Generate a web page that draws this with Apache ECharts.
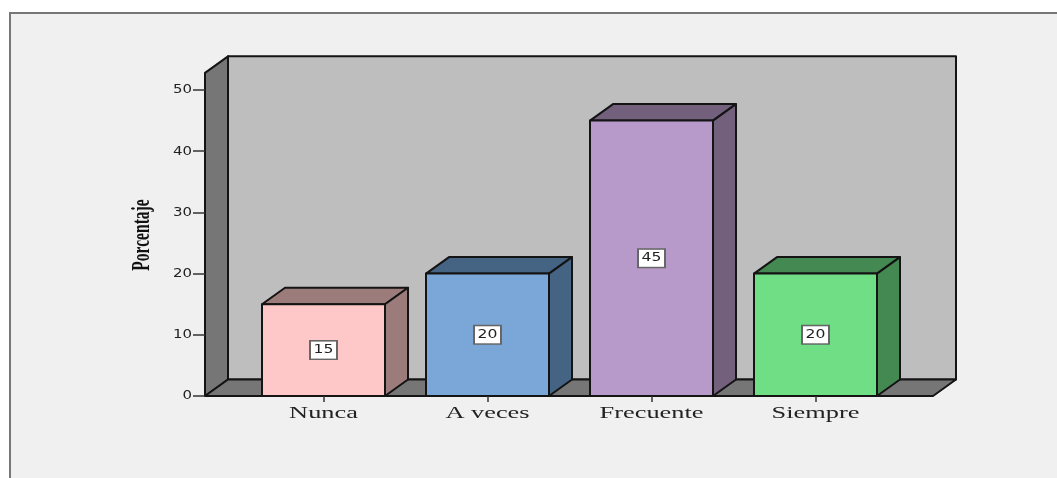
<!DOCTYPE html>
<html><head><meta charset="utf-8">
<style>html,body{margin:0;padding:0;background:#fff}#c{width:1057px;height:478px}</style>
<script src="https://cdn.jsdelivr.net/npm/echarts@6/dist/echarts.min.js"></script></head>
<body><div id="c"></div>
<script>
const categories = ["Nunca","A veces","Frecuente","Siempre"];
const values = [15,20,45,20];
const faceColors = ["#ffc8c8","#7ba7d8","#b89aca","#70de85"];
const shadeColors = ["#9c7b7b","#456484","#73607d","#448852"];
const yTickLabels = [0,10,20,30,40,50];
const yTitle = "Porcentaje";
const wallTop = 52.8;
const DX = 23, DY = -16.5, PADL = 36.5, PADR = 35.5;
const EDGE = "#141414";

const chart = echarts.init(document.getElementById("c"), null, {renderer:"canvas"});
function poly(points, fill){
  return {type:"polygon", shape:{points}, style:{fill, stroke:EDGE, lineWidth:2, lineJoin:"round"}};
}
chart.setOption({
  animation:false,
  backgroundColor:"#ffffff",
  graphic:[
    {type:"rect", z:-10, shape:{x:10,y:13,width:1200,height:600},
     style:{fill:"#f0f0f0", stroke:"#777777", lineWidth:2}},
    {type:"text", z:20, x:143, y:235, rotation:Math.PI/2, scaleX:0.74, scaleY:1.15,
     style:{text:yTitle, align:"center", verticalAlign:"middle", fontFamily:"Liberation Serif",
       fontWeight:"bold", fontSize:21, fill:"#111"}}
  ],
  grid:{left:241.5, width:656, top:90, height:306},
  xAxis:{type:"category", data:categories,
    axisLine:{show:false},
    axisTick:{show:true, alignWithLabel:true, length:6, lineStyle:{color:"#333",width:1.5}},
    axisLabel:{show:false}, z:5},
  yAxis:{type:"value", min:yTickLabels[0], max:yTickLabels[yTickLabels.length-1], interval:10, offset:36.5,
    splitLine:{show:false},
    axisLine:{show:false},
    axisTick:{show:true, length:12, lineStyle:{color:"#333",width:1.5}},
    axisLabel:{show:false}, z:5},
  series:[
    {type:"custom", coordinateSystem:"cartesian2d", z:1, silent:true, data:[[0,0]],
     renderItem(params, api){
       const half = api.size([1,0])[0]/2;
       const o = api.coord([0,0]), t = api.coord([0,wallTop]);
       const xl = o[0]-half-PADL, xr = api.coord([categories.length-1,0])[0]+half+PADR;
       const y0 = o[1], y1 = t[1];
       return {type:"group", children:[
         poly([[xl+DX,y1+DY],[xr+DX,y1+DY],[xr+DX,y0+DY],[xl+DX,y0+DY]],"#bebebe"),
         poly([[xl,y0],[xl+DX,y0+DY],[xl+DX,y1+DY],[xl,y1]],"#767676"),
         poly([[xl,y0],[xr,y0],[xr+DX,y0+DY],[xl+DX,y0+DY]],"#767676")
       ]};
     }},
    {type:"custom", coordinateSystem:"cartesian2d", z:2, silent:true,
     data:values.map((v,i)=>[i,v]), encode:{x:0,y:1},
     renderItem(params, api){
       const i = params.dataIndex, v = api.value(1);
       const w = api.size([1,0])[0]*0.75;
       const c = api.coord([i,v]), b = api.coord([i,0]), m = api.coord([i,v/2]);
       const l = c[0]-w/2, r = c[0]+w/2, t = c[1], y = b[1];
       return {type:"group", children:[
         poly([[l,t],[r,t],[r+DX,t+DY],[l+DX,t+DY]],shadeColors[i]),
         poly([[r,t],[r+DX,t+DY],[r+DX,y+DY],[r,y]],shadeColors[i]),
         poly([[l,t],[r,t],[r,y],[l,y]],faceColors[i]),
         {type:"text", z2:10, x:c[0], y:m[1], scaleX:1.3, style:{text:String(v), align:"center", verticalAlign:"middle",
           fontFamily:"DejaVu Sans", fontSize:12, fill:"#222", backgroundColor:"#fff",
           borderColor:"#666", borderWidth:1.5, padding:[3,2,2,2]}}
       ]};
     }},
    {type:"custom", coordinateSystem:"cartesian2d", z:3, silent:true,
     data:categories.map((c,i)=>[i,0]), encode:{x:0,y:1},
     renderItem(params, api){
       const p = api.coord([params.dataIndex,0]);
       return {type:"text", x:p[0], y:p[1]+18, scaleX:1.55, style:{text:categories[params.dataIndex],
         align:"center", verticalAlign:"middle", fontFamily:"Liberation Serif", fontSize:17, fill:"#222"}};
     }},
    {type:"custom", coordinateSystem:"cartesian2d", z:3, silent:true,
     data:yTickLabels.map(v=>[0,v]), encode:{x:0,y:1},
     renderItem(params, api){
       const p = api.coord([0,api.value(1)]);
       const xl = p[0]-api.size([1,0])[0]/2-PADL;
       return {type:"text", x:xl-13, y:p[1]+0.5, scaleX:1.3, style:{text:String(api.value(1)),
         align:"right", verticalAlign:"middle", fontFamily:"DejaVu Sans", fontSize:11.5, fill:"#222"}};
     }}
  ]
});
</script></body></html>
